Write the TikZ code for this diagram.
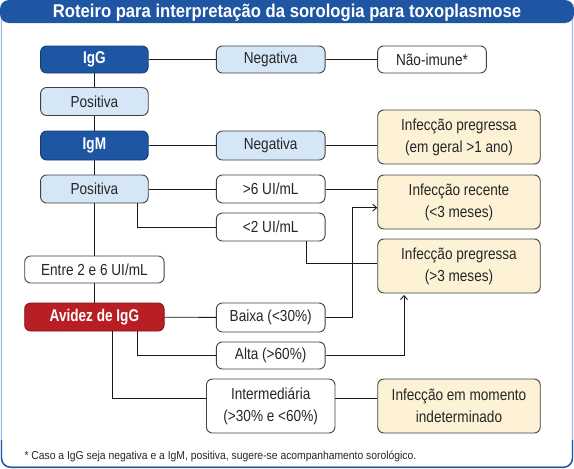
\documentclass[tikz,border=0pt]{standalone}
\usepackage{fontspec}
\setmainfont{Liberation Sans}[FakeStretch=0.9]
\newfontfamily\condfont{Liberation Sans}[FakeStretch=0.85]
\newfontfamily\boldcond{Liberation Sans}[FakeStretch=0.8]
\usetikzlibrary{arrows.meta,calc}
\definecolor{dblue}{HTML}{1F56A3}
\definecolor{lblue}{HTML}{D5E7F7}
\definecolor{cream}{HTML}{FDF1D6}
\definecolor{dred}{HTML}{B91E25}
\definecolor{frameblue}{HTML}{9DB9E2}
\definecolor{boxline}{HTML}{404040}
\tikzset{
  base/.style={draw=boxline, line width=0.9pt, rounded corners=6pt, inner sep=2pt, align=center, font=\condfont\fontsize{16}{22}\selectfont, text=black!85},
  dark/.style={base, fill=dblue, draw=dblue!70!black, text=white, font=\boldcond\fontsize{17}{20}\bfseries\selectfont},
  redbox/.style={base, fill=dred, draw=dred!70!black, text=white, font=\boldcond\fontsize{17}{20}\bfseries\selectfont},
  light/.style={base, fill=lblue},
  plain/.style={base, fill=white},
  result/.style={base, fill=cream},
  con/.style={line width=0.9pt, black!90},
  arr/.style={con, -{Straight Barb[length=4pt,width=7pt]}}
}
\begin{document}
\begin{tikzpicture}[x=1pt,y=-1pt]
\useasboundingbox (0,0) rectangle (574,469);
% frame
\draw[frameblue, line width=1.2pt, rounded corners=9pt] (1.5,10) -- (1.5,467) -- (572.5,467) -- (572.5,10);
\draw[dblue, line width=1.4pt, rounded corners=9pt] (1.5,440) -- (1.5,467.3) -- (572.5,467.3) -- (572.5,440);
\fill[dblue, rounded corners=9pt] (0,0) rectangle (574,23);
\node[text=white, font=\fontsize{18.5}{20}\bfseries\selectfont] (title) at (287,12.5) {Roteiro para interpretação da sorologia para toxoplasmose};
% nodes
\node[dark, minimum width=107.6pt, minimum height=27pt] (igg) at (94.4,59.5) {IgG};
\node[light, minimum width=108.7pt, minimum height=27pt] (neg1) at (270.7,59.5) {Negativa};
\node[plain, minimum width=108.7pt, minimum height=27pt] (nao) at (432,59.5) {Não-imune*};
\node[light, minimum width=107.6pt, minimum height=28pt] (pos1) at (94.4,101.5) {Positiva};
\node[dark, minimum width=107.6pt, minimum height=29pt] (igm) at (94.4,145.5) {IgM};
\node[light, minimum width=108.7pt, minimum height=29pt] (neg2) at (270.7,145.5) {Negativa};
\node[result, minimum width=162.5pt, minimum height=54pt] (preg1) at (459,137) {Infecção pregressa\\(em geral >1 ano)};
\node[light, minimum width=107.6pt, minimum height=28pt] (pos2) at (94.4,189) {Positiva};
\node[plain, minimum width=108.7pt, minimum height=28pt] (gt6) at (270.7,189) {>6 UI/mL};
\node[result, minimum width=162.5pt, minimum height=54pt] (rec) at (459,202) {Infecção recente\\(<3 meses)};
\node[plain, minimum width=108.7pt, minimum height=28pt] (lt2) at (270.7,227) {<2 UI/mL};
\node[result, minimum width=162.5pt, minimum height=54pt] (preg2) at (459,266) {Infecção pregressa\\(>3 meses)};
\node[plain, minimum width=139.4pt, minimum height=27pt] (entre) at (94.4,269.5) {Entre 2 e 6 UI/mL};
\node[redbox, minimum width=139.4pt, minimum height=28pt] (avidez) at (94.4,317) {Avidez de IgG};
\node[plain, minimum width=108.7pt, minimum height=29pt] (baixa) at (270.7,317.5) {Baixa (<30\%)};
\node[plain, minimum width=108.7pt, minimum height=27pt] (alta) at (270.7,355.5) {Alta (>60\%)};
\node[plain, minimum width=128.5pt, minimum height=54pt] (interm) at (270.7,406) {Intermediária\\(>30\% e <60\%)};
\node[result, minimum width=162.5pt, minimum height=54pt] (indet) at (459,406) {Infecção em momento\\indeterminado};
\node[anchor=west, font=\fontsize{11.5}{13}\selectfont, text=black!85] (foot) at (21,456) {* Caso a IgG seja negativa e a IgM, positiva, sugere-se acompanhamento sorológico.};
% connectors
\draw[con] (igg) -- (neg1);
\draw[con] (neg1) -- (nao);
\draw[con] (igg) -- (pos1);
\draw[con] (pos1) -- (igm);
\draw[con] (igm) -- (pos2);
\draw[con] (pos2) -- (entre);
\draw[con] (entre) -- (avidez);
\draw[con] (igm) -- (neg2);
\draw[con] (neg2.east) -- (neg2.east -| preg1.west);
\draw[con] (pos2) -- (gt6);
\draw[con] (gt6.east) -- (gt6.east -| rec.west);
\draw[con] ([xshift=42.9pt]pos2.south) |- (lt2.west);
\draw[con] ([xshift=35.6pt]lt2.south) |- ([yshift=3pt]preg2.west);
\draw[arr] (baixa.east) -- ++(27.1,0) |- ([yshift=-5.7pt]rec.west);
\draw[con] (avidez) -- (baixa);
\draw[con] ([xshift=42.9pt]avidez.south) |- (alta.west);
\draw[arr, shorten >=1.5pt] (alta.east) -| ([xshift=-55pt]preg2.south);
\draw[con] ([xshift=17.6pt]avidez.south) |- ([yshift=8pt]interm.west);
\draw[con] ([yshift=8pt]interm.east) -- ([yshift=8pt]indet.west);
\end{tikzpicture}
\end{document}
